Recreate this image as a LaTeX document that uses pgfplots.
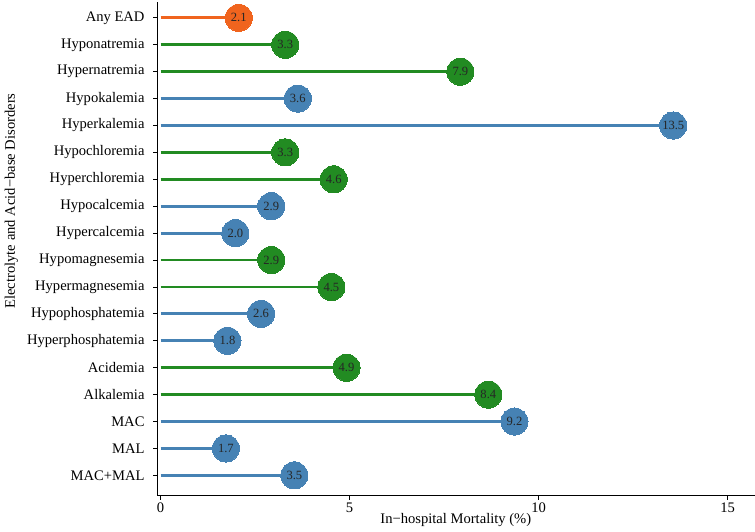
\documentclass[border=0pt]{standalone}
\usepackage{pgfplots}
\pgfplotsset{compat=1.18}
\usepackage{pgfplotstable}
\usepackage{fontspec}
\setmainfont{Liberation Serif}
\definecolor{cOrange}{RGB}{240,100,30}
\definecolor{cGreen}{RGB}{34,139,34}
\definecolor{cBlue}{RGB}{70,130,180}
\pgfplotstableread{
x y lab
2.07 17 2.1
}\orangedata
\pgfplotstableread{
x y lab
3.30 16 3.3
7.93 15 7.9
3.30 12 3.3
4.58 11 4.6
2.93 8 2.9
4.52 7 4.5
4.92 4 4.9
8.67 3 8.4
}\greendata
\pgfplotstableread{
x y lab
3.63 14 3.6
13.56 13 13.5
2.93 10 2.9
1.98 9 2.0
2.66 6 2.6
1.77 5 1.8
9.36 2 9.2
1.73 1 1.7
3.54 0 3.5
}\bluedata
\begin{document}
\fontsize{14.5pt}{16pt}\selectfont
\begin{tikzpicture}
\begin{axis}[
  scale only axis,
  width=594pt, height=491pt,
  xmin=-0.09, xmax=15.71,
  ymin=-0.76, ymax=17.59,
  axis x line*=bottom, axis y line*=left,
  axis line style={line width=0.9pt},
  tick style={line width=0.9pt, black},
  tick align=outside,
  major tick length=4pt,
  xtick={0,5,10,15},
  ytick={0,...,17},
  yticklabels={MAC+MAL,MAL,MAC,Alkalemia,Acidemia,Hyperphosphatemia,Hypophosphatemia,Hypermagnesemia,Hypomagnesemia,Hypercalcemia,Hypocalcemia,Hyperchloremia,Hypochloremia,Hyperkalemia,Hypokalemia,Hypernatremia,Hyponatremia,Any EAD},
  /pgf/number format/assume math mode=true,
  tick label style={font=\fontsize{14.5pt}{16pt}\selectfont},
  xticklabel style={yshift=2pt},
  yticklabel style={xshift=-3.5pt},
  label style={font=\fontsize{14.5pt}{16pt}\selectfont},
  xlabel={In\textminus hospital Mortality (\%)},
  ylabel={Electrolyte and Acid\textminus base Disorders},
  xlabel style={yshift=9pt},
  ylabel style={at={(ticklabel cs:0.597)}, yshift=-1pt},
  clip=false,
  point meta=explicit symbolic,
]
\addplot[xcomb, cOrange, line width=2.8pt] table[x=x,y=y] {\orangedata};
\addplot[xcomb, cGreen, line width=2.8pt] table[x=x,y=y] {\greendata};
\addplot[xcomb, cBlue, line width=2.8pt] table[x=x,y=y] {\bluedata};
\addplot[cOrange, only marks, mark=*, mark size=13.5pt, mark options={draw=cOrange, fill=cOrange, line width=0pt},
  nodes near coords, every node near coord/.append style={anchor=center, font=\fontsize{12.5pt}{14pt}\selectfont, text=black!85}]
  table[x=x,y=y,meta=lab] {\orangedata};
\addplot[cGreen, only marks, mark=*, mark size=13.5pt, mark options={draw=cGreen, fill=cGreen, line width=0pt},
  nodes near coords, every node near coord/.append style={anchor=center, font=\fontsize{12.5pt}{14pt}\selectfont, text=black!85}]
  table[x=x,y=y,meta=lab] {\greendata};
\addplot[cBlue, only marks, mark=*, mark size=13.5pt, mark options={draw=cBlue, fill=cBlue, line width=0pt},
  nodes near coords, every node near coord/.append style={anchor=center, font=\fontsize{12.5pt}{14pt}\selectfont, text=black!85}]
  table[x=x,y=y,meta=lab] {\bluedata};
\path (rel axis cs:0,1.004);
\end{axis}
\end{tikzpicture}
\end{document}
